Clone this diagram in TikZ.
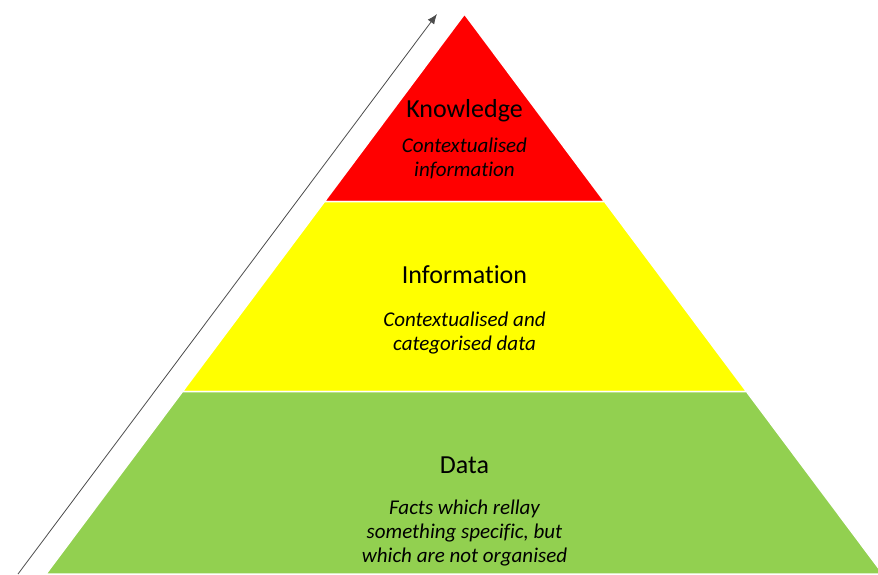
\documentclass[tikz,border=0pt]{standalone}
\usepackage{fontspec}
\setmainfont{Carlito}[Ligatures=NoCommon]
\usepackage{tikz}
\usetikzlibrary{arrows.meta}

\definecolor{datagreen}{HTML}{92D050}
\definecolor{infoyellow}{HTML}{FFFF00}

\begin{document}
\begin{tikzpicture}[x=1pt, y=-1pt,
  layer/.style={draw=white, line width=1.5pt},
  level/.style={anchor=base, font=\fontsize{26}{31}\selectfont},
  detail/.style={anchor=base, align=center, font=\fontsize{21}{24}\selectfont\itshape}]
  \useasboundingbox (0,0) rectangle (878,574);
  \clip (0,0) rectangle (878,574);
  % corners of the pyramid
  \coordinate (apex) at (464.5,14);
  \coordinate (kl) at (324.5,201.5);
  \coordinate (kr) at (604.5,201.5);
  \coordinate (il) at (182.5,391.5);
  \coordinate (ir) at (746.5,391.5);
  \coordinate (dl) at (46,574);
  \coordinate (dr) at (883,574);
  % layers
  \draw[layer, fill=red] (apex) -- (kr) -- (kl) -- cycle;
  \draw[layer, fill=infoyellow] (kl) -- (kr) -- (ir) -- (il) -- cycle;
  \draw[layer, fill=datagreen] (il) -- (ir) -- (dr) -- (dl) -- cycle;
  % labels (detail nodes sit on the baseline of their last line)
  \node[level] (know) at (464.5,117) {Knowledge};
  \node[detail] (knowtxt) at (464.5,176) {Contextualised\\information};
  \node[level] (info) at (464.5,283) {Information};
  \node[detail] (infotxt) at (464.5,350) {Contextualised and\\categorised data};
  \node[level] (data) at (464.5,473) {Data};
  \node[detail] (datatxt) at (464.5,562) {Facts which rellay\\something specific, but\\which are not organised};
  % arrow along the side
  \coordinate (low) at (18,574);
  \coordinate (high) at (437,14);
  \draw[-{Latex[length=10pt,width=8pt]}, draw=black!70, line width=0.8pt] (low) -- (high);
\end{tikzpicture}
\end{document}
